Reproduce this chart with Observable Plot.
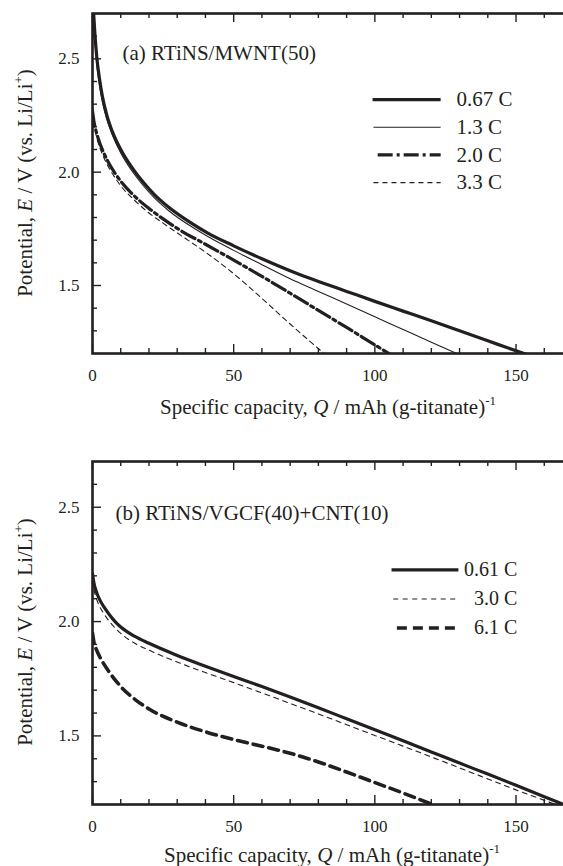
<!DOCTYPE html>
<html><head><meta charset="utf-8">
<script src="https://cdn.jsdelivr.net/npm/d3@7"></script>
<script src="https://cdn.jsdelivr.net/npm/@observablehq/plot@0.6"></script>
<style>
html,body{margin:0;padding:0;background:#fff;overflow:hidden;}
#wrap{position:relative;width:563px;height:866px;overflow:hidden;font-family:"Liberation Serif","Times New Roman",serif;color:#231f20;}
.panel{position:absolute;left:0;}
.xt{position:absolute;font-size:21px;white-space:nowrap;transform:translate(-50%,-50%);}
.yt{position:absolute;font-size:21px;white-space:nowrap;transform:translate(-50%,-50%) rotate(-90deg);}
.xt sup,.yt sup{font-size:13px;vertical-align:9px;line-height:0;}
</style></head><body><div id="wrap"></div>
<script>
const ink = "#231f20";

// ---------- Panel (a) RTiNS/MWNT(50) ----------
const labelA = "(a) RTiNS/MWNT(50)";
const namesA = ["0.67 C", "1.3 C", "2.0 C", "3.3 C"];
const qA067 = [0.3, 0.8, 1.5, 2.5, 3.5, 5, 7, 10, 14, 18, 22, 27, 35, 41, 50, 60, 72, 80, 90, 100, 110, 120, 130, 140, 150, 154];
const eA067 = [2.72, 2.62, 2.51, 2.41, 2.335, 2.255, 2.18, 2.10, 2.02, 1.955, 1.90, 1.845, 1.775, 1.73, 1.675, 1.618, 1.555, 1.518, 1.474, 1.43, 1.387, 1.344, 1.30, 1.256, 1.212, 1.195];
const qA13 = [0.3, 0.8, 1.5, 2.5, 3.5, 5, 7, 10, 14, 18, 22, 27, 35, 41, 50, 60, 70, 80, 90, 100, 110, 120, 129];
const eA13 = [2.70, 2.59, 2.475, 2.38, 2.31, 2.235, 2.165, 2.085, 2.005, 1.94, 1.885, 1.83, 1.76, 1.715, 1.655, 1.592, 1.53, 1.474, 1.418, 1.362, 1.306, 1.25, 1.2];
const qA20 = [0, 0.5, 1, 2, 4, 6, 8, 10, 15, 20, 25, 30, 40, 50, 60, 70, 80, 90, 100, 105];
const eA20 = [2.27, 2.225, 2.195, 2.15, 2.085, 2.035, 1.995, 1.96, 1.893, 1.84, 1.794, 1.752, 1.682, 1.612, 1.54, 1.466, 1.39, 1.315, 1.238, 1.2];
const qA33 = [0, 0.5, 1, 2, 4, 6, 8, 10, 15, 20, 25, 30, 35, 40, 50, 60, 70, 82];
const eA33 = [2.30, 2.22, 2.18, 2.13, 2.065, 2.015, 1.975, 1.94, 1.875, 1.82, 1.775, 1.732, 1.69, 1.647, 1.552, 1.443, 1.33, 1.2];

// ---------- Panel (b) RTiNS/VGCF(40)+CNT(10) ----------
const labelB = "(b) RTiNS/VGCF(40)+CNT(10)";
const namesB = ["0.61 C", "3.0 C", "6.1 C"];
const qB061 = [0, 0.5, 1, 2, 4, 6, 8, 10, 15, 20, 30, 40, 50, 60, 70, 80, 90, 100, 110, 120, 130, 140, 150, 160, 167];
const eB061 = [2.21, 2.17, 2.145, 2.11, 2.065, 2.03, 2.0, 1.976, 1.935, 1.905, 1.852, 1.805, 1.76, 1.716, 1.67, 1.623, 1.575, 1.527, 1.479, 1.43, 1.381, 1.333, 1.284, 1.234, 1.2];
const qB30 = [0, 0.5, 1, 2, 4, 6, 8, 10, 15, 20, 30, 40, 50, 60, 70, 80, 90, 100, 110, 120, 130, 140, 150, 160, 164];
const eB30 = [2.18, 2.14, 2.115, 2.08, 2.035, 2.0, 1.972, 1.948, 1.905, 1.875, 1.823, 1.777, 1.733, 1.688, 1.642, 1.596, 1.549, 1.502, 1.455, 1.408, 1.36, 1.312, 1.264, 1.218, 1.2];
const qB61 = [0, 0.5, 1, 2, 4, 6, 8, 10, 15, 20, 30, 40, 50, 60, 70, 80, 90, 100, 110, 120];
const eB61 = [1.95, 1.91, 1.89, 1.86, 1.815, 1.778, 1.745, 1.716, 1.66, 1.618, 1.56, 1.518, 1.484, 1.455, 1.424, 1.386, 1.342, 1.296, 1.25, 1.202];

// ---------- Axes ----------
const xDomain = [0, 170];
const yDomain = [1.2, 2.7];
const xMajor = [0, 50, 100, 150];
const xMinor = [10, 20, 30, 40, 60, 70, 80, 90, 110, 120, 130, 140, 160];
const yMajor = [1.5, 2.0, 2.5];
const yMinor = [1.3, 1.4, 1.6, 1.7, 1.8, 1.9, 2.1, 2.2, 2.3, 2.4, 2.6];

const W = 576, H = 433, ML = 92, MR = 4;

function toRows(q, e) { return q.map((v, i) => ({q: v, e: e[i]})); }

function makePanel(o) {
  const plotH = H - o.mt - o.mb;
  const plotW = W - ML - MR;
  const kx = (xDomain[1] - xDomain[0]) / plotW;
  const ky = (yDomain[1] - yDomain[0]) / plotH;
  const majLen = 9, minLen = 5;
  const tick = {stroke: ink, strokeWidth: 1.4};
  const marks = [
    Plot.ruleX(xMajor, {x: d => d, y1: yDomain[0], y2: yDomain[0] + majLen * ky, ...tick}),
    Plot.ruleX(xMinor, {x: d => d, y1: yDomain[0], y2: yDomain[0] + minLen * ky, ...tick}),
    Plot.ruleX(xMajor, {x: d => d, y1: yDomain[1], y2: yDomain[1] - majLen * ky, ...tick}),
    Plot.ruleX(xMinor, {x: d => d, y1: yDomain[1], y2: yDomain[1] - minLen * ky, ...tick}),
    Plot.ruleY(yMajor, {y: d => d, x1: xDomain[0], x2: xDomain[0] + majLen * kx, ...tick}),
    Plot.ruleY(yMinor, {y: d => d, x1: xDomain[0], x2: xDomain[0] + minLen * kx, ...tick}),
    Plot.ruleY(yMajor, {y: d => d, x1: xDomain[1], x2: xDomain[1] - majLen * kx, ...tick}),
    Plot.ruleY(yMinor, {y: d => d, x1: xDomain[1], x2: xDomain[1] - minLen * kx, ...tick}),
    Plot.axisX({ticks: xMajor, anchor: "bottom", tickSize: 0, tickPadding: 15, fontSize: 17, tickFormat: d => String(d), label: null}),
    Plot.axisY({ticks: yMajor, anchor: "left", tickSize: 0, tickPadding: 13, fontSize: 17, tickFormat: d3.format(".1f"), label: null}),
    Plot.frame({stroke: ink, strokeWidth: 2.6})
  ];
  for (const s of o.series) {
    marks.push(Plot.line(toRows(s.q, s.e), {x: "q", y: "e", stroke: ink, strokeWidth: s.w, strokeDasharray: s.dash, clip: true, curve: "monotone-x"}));
  }
  o.series.forEach((s, i) => {
    const ly = o.legY0 - i * o.legStep;
    marks.push(Plot.link([s], {x1: () => o.legX1[i], x2: () => o.legX2, y1: () => ly, y2: () => ly, stroke: ink, strokeWidth: s.w, strokeDasharray: s.dash}));
    marks.push(Plot.text([s.name], {x: () => o.legTx, y: () => ly, text: d => d, fontSize: o.legFont, textAnchor: o.legAnchor, fill: ink}));
  });
  marks.push(Plot.text([o.label], {frameAnchor: "top-left", dx: o.ldx, dy: o.ldy, text: d => d, fontSize: 21, textAnchor: "start", lineAnchor: "middle", fill: ink}));
  return Plot.plot({
    width: W, height: H,
    marginLeft: ML, marginRight: MR, marginTop: o.mt, marginBottom: o.mb,
    x: {domain: xDomain, label: null},
    y: {domain: yDomain, label: null},
    style: {fontFamily: "Liberation Serif, Times New Roman, serif", color: ink, background: "transparent", maxWidth: "none"},
    marks
  });
}

const styleA = [{w: 3.2, dash: null}, {w: 1.1, dash: null}, {w: 3.2, dash: "15,4,3,4"}, {w: 1.1, dash: "5,4"}];
const dataA = [[qA067, eA067], [qA13, eA13], [qA20, eA20], [qA33, eA33]];
const seriesA = namesA.map((n, i) => ({name: n, q: dataA[i][0], e: dataA[i][1], ...styleA[i]}));
const styleB = [{w: 3.2, dash: null}, {w: 1.1, dash: "5,4.5"}, {w: 3.6, dash: "10,6"}];
const dataB = [[qB061, eB061], [qB30, eB30], [qB61, eB61]];
const seriesB = namesB.map((n, i) => ({name: n, q: dataB[i][0], e: dataB[i][1], ...styleB[i]}));

const wrap = document.getElementById("wrap");
const pa = makePanel({series: seriesA, mt: 13, mb: 80, label: labelA, ldx: 30, ldy: 40,
  legY0: 2.32, legStep: 0.122, legX1: [99.2, 99.5, 101, 99.5], legX2: 123.3, legTx: 128.9, legAnchor: "start", legFont: 21});
pa.classList.add("panel"); pa.style.top = "0px";
wrap.appendChild(pa);
const pb = makePanel({series: seriesB, mt: 28, mb: 62, label: labelB, ldx: 23, ldy: 52,
  legY0: 2.226, legStep: 0.127, legX1: [105.9, 106.5, 107.8], legX2: 129.6, legTx: 150.5, legAnchor: "end", legFont: 20});
pb.classList.add("panel"); pb.style.top = "433px";
wrap.appendChild(pb);

function addHtml(cls, html, x, y) {
  const d = document.createElement("div");
  d.className = cls; d.innerHTML = html;
  d.style.left = x + "px"; d.style.top = y + "px";
  wrap.appendChild(d);
}
const xTitle = "Specific capacity, <i>Q</i> / mAh (g-titanate)<sup>-1</sup>";
const yTitle = "Potential, <i>E</i> / V (vs. Li/Li<sup>+</sup>)";
addHtml("xt", xTitle, 328, 407);
addHtml("xt", xTitle, 332, 855);
addHtml("yt", yTitle, 25, 183);
addHtml("yt", yTitle, 25, 632);
</script>
</body></html>
